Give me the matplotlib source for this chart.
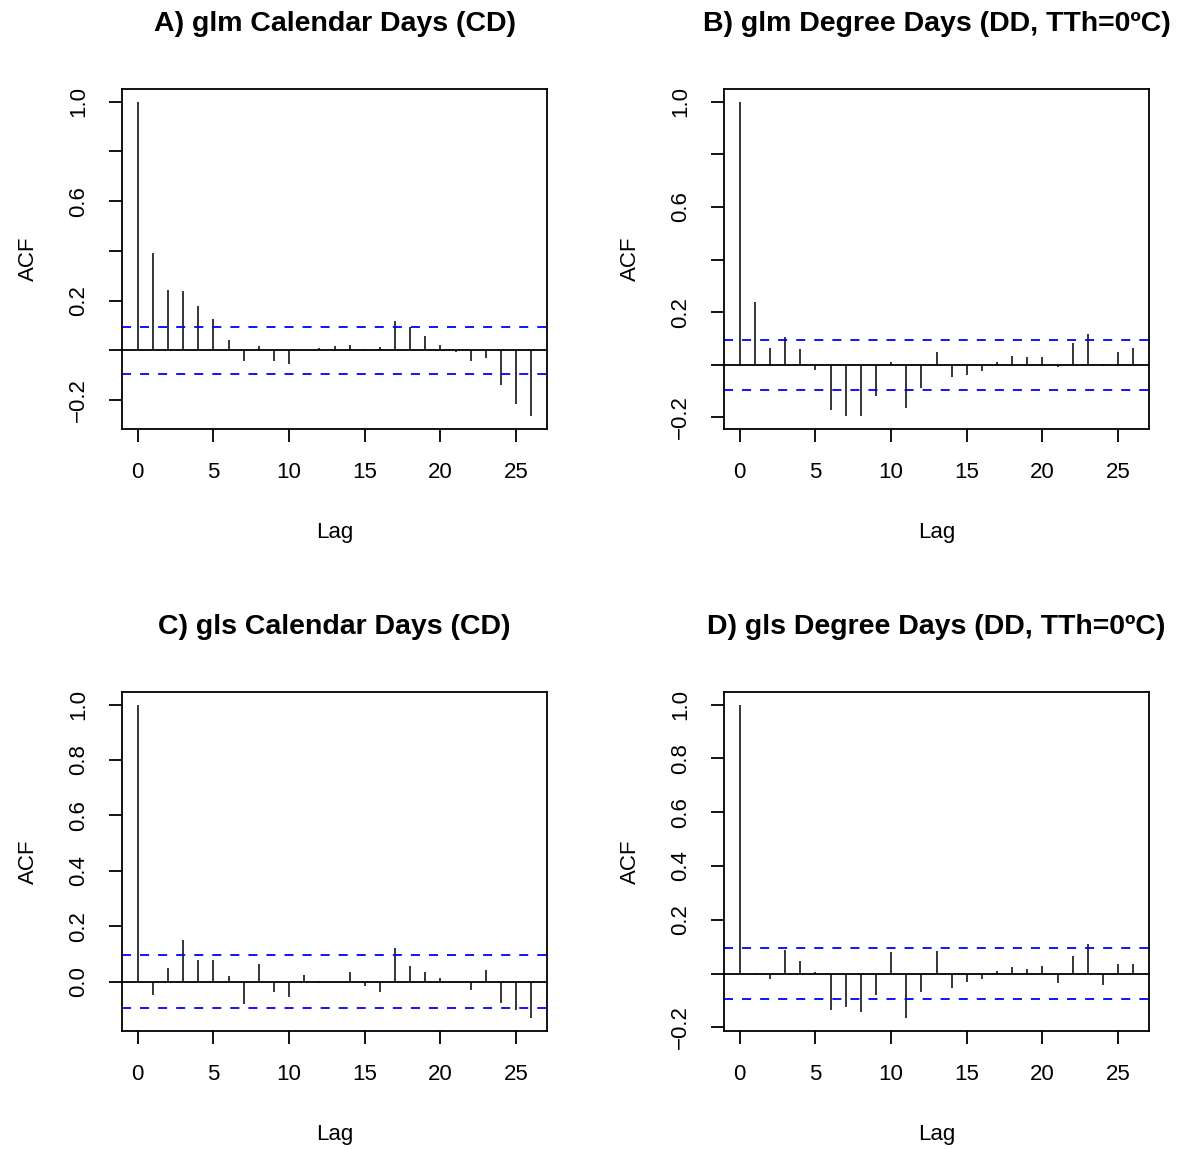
import matplotlib
matplotlib.use('Agg')
import matplotlib.pyplot as plt
import numpy as np

plt.rcParams['font.family'] = ['Liberation Sans', 'DejaVu Sans']

# ACF values (lags 0..26)
lags = list(range(27))

acf_glm_cd = [1.0, 0.39, 0.243, 0.238, 0.177, 0.128, 0.043, -0.044, 0.016, -0.044,
              -0.054, 0.003, 0.008, 0.016, 0.020, -0.004, 0.015, 0.118, 0.096, 0.060,
              0.021, -0.008, -0.044, -0.032, -0.140, -0.215, -0.265]
acf_glm_dd = [1.0, 0.237, 0.065, 0.106, 0.059, -0.020, -0.171, -0.196, -0.194, -0.118,
              0.011, -0.163, -0.087, 0.047, -0.048, -0.038, -0.025, 0.009, 0.033, 0.030,
              0.028, -0.009, 0.082, 0.116, -0.003, 0.048, 0.065]
acf_gls_cd = [1.0, -0.049, 0.049, 0.151, 0.078, 0.079, 0.022, -0.080, 0.065, -0.035,
              -0.055, 0.025, -0.005, -0.002, 0.034, -0.014, -0.035, 0.121, 0.057, 0.035,
              0.013, -0.005, -0.030, 0.044, -0.075, -0.103, -0.132]
acf_gls_dd = [1.0, -0.006, -0.019, 0.089, 0.046, 0.006, -0.137, -0.126, -0.142, -0.081,
              0.079, -0.167, -0.070, 0.083, -0.052, -0.031, -0.021, 0.010, 0.025, 0.017,
              0.028, -0.036, 0.064, 0.109, -0.044, 0.037, 0.035]

ci_bound = 0.096

titles = ['A) glm Calendar Days (CD)',
          'B) glm Degree Days (DD, TTh=0ºC)',
          'C) gls Calendar Days (CD)',
          'D) gls Degree Days (DD, TTh=0ºC)']

# y tick labels R kept (others dropped due to overlap)
ytick_sets = [
    ([-0.2, 0.0, 0.2, 0.4, 0.6, 0.8, 1.0], ['−0.2', '', '0.2', '', '0.6', '', '1.0']),
    ([-0.2, 0.0, 0.2, 0.4, 0.6, 0.8, 1.0], ['−0.2', '', '0.2', '', '0.6', '', '1.0']),
    ([0.0, 0.2, 0.4, 0.6, 0.8, 1.0], ['0.0', '0.2', '0.4', '0.6', '0.8', '1.0']),
    ([-0.2, 0.0, 0.2, 0.4, 0.6, 0.8, 1.0], ['−0.2', '', '0.2', '0.4', '0.6', '0.8', '1.0']),
]

W, H = 1179, 1149
fig = plt.figure(figsize=(W / 100, H / 100), dpi=100)

# axes boxes in pixels: left, top, right, bottom
boxes = [(122, 89, 547, 429), (724, 89, 1149, 429),
         (122, 692, 547, 1031), (724, 692, 1149, 1031)]

series = [acf_glm_cd, acf_glm_dd, acf_gls_cd, acf_gls_dd]

for acf, title, box, (yt, ytl) in zip(series, titles, boxes, ytick_sets):
    l, t, r, b = box
    ax = fig.add_axes([l / W, 1 - b / H, (r - l) / W, (b - t) / H])
    ax.vlines(lags, 0, acf, color='black', linewidth=1.1)
    ax.axhline(0, color='black', linewidth=1.3)
    for c in (ci_bound, -ci_bound):
        ax.axhline(c, color='#0000ff', linewidth=1.3, linestyle=(0, (5, 5)))

    # R style 4% range extension
    lo = min(min(acf), -ci_bound)
    hi = max(max(acf), ci_bound)
    ext = (hi - lo) * 0.04
    ax.set_ylim(lo - ext, hi + ext)
    ax.set_xlim(-26 * 0.04, 26 * 1.04)

    ax.set_xticks([0, 5, 10, 15, 20, 25])
    ax.set_yticks(yt)
    ax.set_yticklabels(ytl, rotation=90, va='center')
    ax.tick_params(direction='out', length=9.5, width=1.3, labelsize=16, pad=14)
    for s in ax.spines.values():
        s.set_linewidth(1.3)

    ax.set_xlabel('Lag', fontsize=16, labelpad=28)
    ax.set_ylabel('ACF', fontsize=16, labelpad=21)
    ax.set_title(title, fontsize=20.5, fontweight='bold', pad=42)

fig.savefig('out.png', dpi=100, facecolor='white')
